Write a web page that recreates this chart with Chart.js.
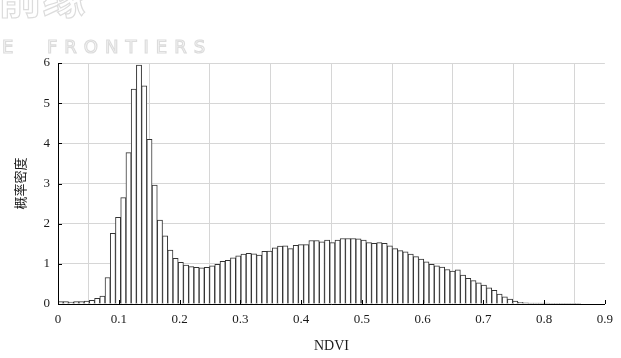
<!DOCTYPE html>
<html>
<head>
<meta charset="utf-8">
<script src="https://cdn.jsdelivr.net/npm/chart.js@4/dist/chart.umd.min.js"></script>
<style>
  html, body { margin: 0; padding: 0; background: #fff; }
  canvas { display: block; }
</style>
</head>
<body>
<canvas id="chart" width="621" height="358"></canvas>
<script>
// histogram bins (NDVI)
const binStart = 0;
const binWidth = 0.0086;
const density = [
  0.06, 0.06, 0.05, 0.06, 0.06, 0.07, 0.09, 0.14, 0.20, 0.66,
  1.76, 2.16, 2.65, 3.77, 5.35, 5.95, 5.43, 4.10, 2.96, 2.09,
  1.70, 1.34, 1.14, 1.04, 0.97, 0.93, 0.91, 0.90, 0.91, 0.95,
  0.99, 1.06, 1.09, 1.15, 1.20, 1.24, 1.26, 1.25, 1.22, 1.31,
  1.32, 1.40, 1.44, 1.45, 1.38, 1.46, 1.48, 1.48, 1.58, 1.58,
  1.55, 1.59, 1.53, 1.59, 1.63, 1.63, 1.63, 1.62, 1.59, 1.53,
  1.51, 1.53, 1.51, 1.45, 1.38, 1.33, 1.30, 1.24, 1.18, 1.12,
  1.05, 0.99, 0.95, 0.92, 0.86, 0.82, 0.85, 0.72, 0.64, 0.58,
  0.53, 0.47, 0.40, 0.34, 0.25, 0.18, 0.12, 0.07, 0.04, 0.03,
  0.02, 0.02, 0.02, 0.02, 0.01, 0.01, 0.01, 0.01, 0.01, 0.01
];
const xTickLabels = ['0', '0.1', '0.2', '0.3', '0.4', '0.5', '0.6', '0.7', '0.8', '0.9'];
const yTickLabels = ['0', '1', '2', '3', '4', '5', '6'];

const serif = 'Liberation Serif';

// white page + faint watermark in the top-left corner
const backdrop = {
  id: 'backdrop',
  beforeDraw(chart) {
    const ctx = chart.ctx;
    ctx.save();
    ctx.fillStyle = '#fff';
    ctx.fillRect(0, 0, chart.width, chart.height);
    ctx.strokeStyle = '#dcdcdc';
    ctx.lineWidth = 1.2;
    ctx.font = 'bold 44px "Noto Sans CJK SC"';
    ctx.textBaseline = 'alphabetic';
    ctx.strokeText('前缘', -2, 14);
    ctx.font = '18px "DejaVu Sans"';
    ctx.letterSpacing = '7px';
    ctx.strokeText('E', 2, 53);
    ctx.strokeText('FRONTIERS', 47, 53);
    ctx.restore();
  }
};

// short inward tick marks on left and bottom axes
const innerTicks = {
  id: 'innerTicks',
  afterDraw(chart) {
    const { ctx, chartArea, scales } = chart;
    ctx.save();
    ctx.strokeStyle = '#000';
    ctx.lineWidth = 1;
    ctx.beginPath();
    yTickLabels.forEach((t, i) => {
      const y = Math.round(scales.y.getPixelForValue(i)) + 0.5;
      ctx.moveTo(chartArea.left, y);
      ctx.lineTo(chartArea.left + 4, y);
    });
    xTickLabels.forEach((t, i) => {
      const x = Math.round(scales.x.getPixelForValue(i / 10)) + 0.5;
      ctx.moveTo(x, chartArea.bottom);
      ctx.lineTo(x, chartArea.bottom - 4);
    });
    ctx.stroke();
    ctx.restore();
  }
};

new Chart(document.getElementById('chart'), {
  type: 'bar',
  data: {
    datasets: [{
      data: density.map((v, i) => ({ x: binStart + (i + 0.5) * binWidth, y: v })),
      backgroundColor: '#fff',
      borderColor: '#333',
      borderWidth: 1,
      barPercentage: 1,
      categoryPercentage: 1
    }]
  },
  options: {
    responsive: false,
    animation: false,
    devicePixelRatio: 1,
    layout: { padding: { left: 8, top: 63, right: 16, bottom: 0 } },
    plugins: { legend: { display: false }, tooltip: { enabled: false } },
    scales: {
      x: {
        type: 'linear',
        min: 0,
        max: 0.9,
        offset: false,
        afterBuildTicks(scale) {
          scale.ticks = xTickLabels.map((t, i) => ({ value: i / 10 }));
        },
        afterFit(scale) { scale.height = 54; },
        ticks: {
          callback: (v, i) => xTickLabels[i],
          font: { family: serif, size: 13 },
          color: '#1a1a1a',
          padding: 8,
          maxRotation: 0,
          autoSkip: false
        },
        grid: { color: '#d6d6d6', drawTicks: false },
        border: { display: true, color: '#000', width: 1 },
        title: {
          display: true,
          text: 'NDVI',
          font: { family: serif, size: 14 },
          color: '#1a1a1a',
          padding: { top: 0, bottom: 3 }
        }
      },
      y: {
        min: 0,
        max: 6,
        afterBuildTicks(scale) {
          scale.ticks = yTickLabels.map((t, i) => ({ value: i }));
        },
        afterFit(scale) { scale.width = 50; },
        ticks: {
          callback: (v, i) => yTickLabels[i],
          font: { family: serif, size: 13 },
          color: '#1a1a1a',
          padding: 8
        },
        grid: { color: '#d6d6d6', drawTicks: false },
        border: { display: true, color: '#000', width: 1 },
        title: {
          display: true,
          text: '概率密度',
          font: { family: 'Noto Sans CJK SC', size: 13 },
          color: '#1a1a1a',
          padding: { top: 4, bottom: 0 }
        }
      }
    }
  },
  plugins: [backdrop, innerTicks]
});
</script>
</body>
</html>
